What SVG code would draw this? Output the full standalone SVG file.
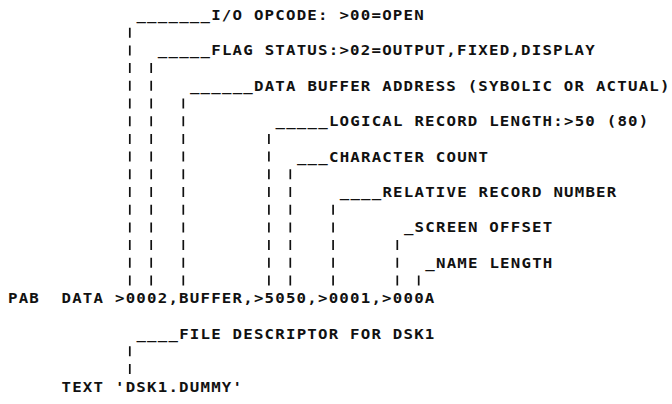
<svg xmlns="http://www.w3.org/2000/svg" width="672" height="404" viewBox="0 0 672 404">
<style>
.t{font-family:"DejaVu Sans Mono","Liberation Mono",monospace;font-size:13.7px;font-weight:bold;letter-spacing:1.05px;fill:#111}
.b{stroke:#111;stroke-width:1.7;stroke-dasharray:10 7.7;fill:none}
</style>
<rect width="672" height="404" fill="#fff"/>
<g id="connectors">
<line class="b" x1="129.8" y1="27.7" x2="129.8" y2="285.5"/>
<line class="b" x1="151.2" y1="63.1" x2="151.2" y2="285.5"/>
<line class="b" x1="183.3" y1="98.5" x2="183.3" y2="285.5"/>
<line class="b" x1="268.9" y1="133.9" x2="268.9" y2="285.5"/>
<line class="b" x1="290.3" y1="169.3" x2="290.3" y2="285.5"/>
<line class="b" x1="333.1" y1="204.7" x2="333.1" y2="285.5"/>
<line class="b" x1="397.3" y1="240.1" x2="397.3" y2="285.5"/>
<line class="b" x1="418.7" y1="275.5" x2="418.7" y2="285.5"/>
<line class="b" x1="129.8" y1="346.3" x2="129.8" y2="374"/>
</g>
<g transform="scale(1.15 1)">
<g id="opcode"><text class="t" x="118.609" y="20">_______I/O OPCODE: &gt;00=OPEN</text></g>
<g id="flag"><text class="t" x="137.217" y="55.4">_____FLAG STATUS:&gt;02=OUTPUT,FIXED,DISPLAY</text></g>
<g id="buffer"><text class="t" x="165.13" y="90.8">______DATA BUFFER ADDRESS (SYBOLIC OR ACTUAL)</text></g>
<g id="reclen"><text class="t" x="239.565" y="126.2">_____LOGICAL RECORD LENGTH:&gt;50 (80)</text></g>
<g id="charcount"><text class="t" x="258.174" y="161.6">___CHARACTER COUNT</text></g>
<g id="recnum"><text class="t" x="295.391" y="197">____RELATIVE RECORD NUMBER</text></g>
<g id="offset"><text class="t" x="351.217" y="232.4">_SCREEN OFFSET</text></g>
<g id="namelen"><text class="t" x="369.826" y="267.8">_NAME LENGTH</text></g>
<g id="pab">
<text class="t" x="6.957" y="303.2">PAB</text>
<text class="t" x="53.478" y="303.2">DATA</text>
<text class="t" x="100" y="303.2">&gt;0002,BUFFER,&gt;5050,&gt;0001,&gt;000A</text>
</g>
<g id="descriptor"><text class="t" x="118.609" y="338.6">____FILE DESCRIPTOR FOR DSK1</text></g>
<g id="textline">
<text class="t" x="53.478" y="391.7">TEXT</text>
<text class="t" x="100" y="391.7">'DSK1.DUMMY'</text>
</g>
</g>
</svg>
